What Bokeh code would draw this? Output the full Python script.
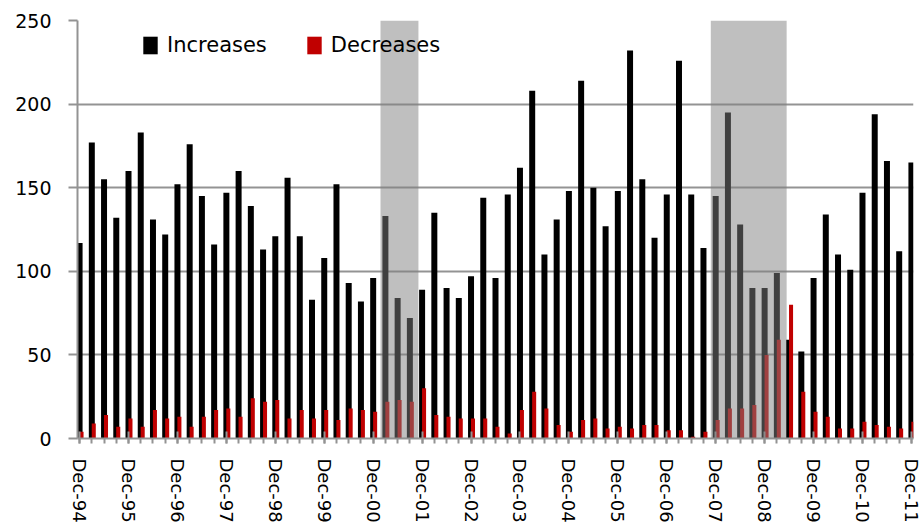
from bokeh.plotting import figure
from bokeh.models import (Range1d, FixedTicker, BoxAnnotation, Legend, LegendItem,
                          ColumnDataSource)
from bokeh.transform import dodge
from bokeh.embed import file_html
from bokeh.resources import INLINE

# Quarterly observations, Dec-94 ... Dec-11 (69 quarters)
year_labels = ["Dec-94", "Dec-95", "Dec-96", "Dec-97", "Dec-98", "Dec-99", "Dec-00",
               "Dec-01", "Dec-02", "Dec-03", "Dec-04", "Dec-05", "Dec-06", "Dec-07",
               "Dec-08", "Dec-09", "Dec-10", "Dec-11"]

increases = [117, 177, 155, 132, 160, 183, 131, 122, 152, 176, 145, 116, 147, 160, 139, 113,
             121, 156, 121, 83, 108, 152, 93, 82, 96, 133, 84, 72, 89, 135, 90, 84,
             97, 144, 96, 146, 162, 208, 110, 131, 148, 214, 150, 127, 148, 232, 155, 120,
             146, 226, 146, 114, 145, 195, 128, 90, 90, 99, 59, 52, 96, 134, 110, 101,
             147, 194, 166, 112, 165]

decreases = [4, 9, 14, 7, 12, 7, 17, 12, 13, 7, 13, 17, 18, 13, 24, 22,
             23, 12, 17, 12, 17, 11, 18, 17, 16, 22, 23, 22, 30, 14, 13, 12,
             12, 12, 7, 3, 17, 28, 18, 8, 4, 11, 12, 6, 7, 6, 8, 8,
             5, 5, 1, 4, 11, 18, 18, 20, 50, 59, 80, 28, 16, 13, 6, 6,
             10, 8, 7, 6, 10]

# Recession periods, in quarters since Dec-94
recession_start = [24.6, 51.6]
recession_end = [27.7, 57.8]

y_ticks = [0, 50, 100, 150, 200, 250]

quarter_index = list(range(len(increases)))
source = ColumnDataSource(dict(q=quarter_index, inc=increases, dec=decreases))

GRID = "#939393"
FONT = "DejaVu Sans"

p = figure(width=922, height=526, output_backend="svg", toolbar_location=None,
           x_range=Range1d(-0.17, len(increases) - 1 + 0.17), y_range=Range1d(0, 250),
           min_border_left=77, min_border_right=9, min_border_top=20, min_border_bottom=88)
p.outline_line_color = None
p.background_fill_color = "white"
p.border_fill_color = "white"

r_inc = p.vbar(x="q", top="inc", width=0.49, source=source,
               fill_color="#000000", line_color=None)
r_dec = p.vbar(x=dodge("q", 0.16, range=p.x_range), top="dec", width=0.33, source=source,
               fill_color="#C00000", line_color=None)

# grid
p.xgrid.visible = False
p.ygrid.grid_line_color = GRID
p.ygrid.grid_line_width = 2
p.yaxis.ticker = FixedTicker(ticks=y_ticks)

# y axis
p.yaxis.axis_line_color = GRID
p.yaxis.axis_line_width = 2
p.yaxis.major_tick_line_color = GRID
p.yaxis.major_tick_line_width = 2
p.yaxis.major_tick_out = 9
p.yaxis.major_tick_in = 0
p.yaxis.minor_tick_line_color = None
p.yaxis.major_label_standoff = 17
p.yaxis.major_label_text_font = FONT
p.yaxis.major_label_text_font_size = "19px"
p.yaxis.major_label_text_color = "black"

# x axis
major = [i * 4 for i in range(len(year_labels))]
p.xaxis.ticker = FixedTicker(ticks=major, minor_ticks=quarter_index)
p.xaxis.major_label_overrides = {m: lbl for m, lbl in zip(major, year_labels)}
p.xaxis.major_label_orientation = "vertical"
p.xaxis.axis_line_color = GRID
p.xaxis.axis_line_width = 2
p.xaxis.major_tick_line_color = GRID
p.xaxis.major_tick_line_width = 2
p.xaxis.major_tick_in = 7
p.xaxis.major_tick_out = 5
p.xaxis.minor_tick_line_color = GRID
p.xaxis.minor_tick_line_width = 2
p.xaxis.minor_tick_in = 0
p.xaxis.minor_tick_out = 5
p.xaxis.major_label_standoff = 15
p.xaxis.major_label_text_font = FONT
p.xaxis.major_label_text_font_size = "18px"
p.xaxis.major_label_text_color = "black"

legend = Legend(items=[LegendItem(label="Increases", renderers=[r_inc]),
                       LegendItem(label="Decreases", renderers=[r_dec])],
                orientation="horizontal", location=(64, 381),
                border_line_color=None, background_fill_alpha=0,
                padding=0, margin=0, spacing=38,
                glyph_width=18, glyph_height=22, label_standoff=8,
                label_text_font=FONT, label_text_font_size="21px",
                label_text_color="black")
p.add_layout(legend)

for s, e in zip(recession_start, recession_end):
    p.add_layout(BoxAnnotation(left=s, right=e, fill_color="#808080", fill_alpha=0.5,
                               line_color=None, level="overlay"))

open("out.html", "w").write(file_html(p, INLINE))
